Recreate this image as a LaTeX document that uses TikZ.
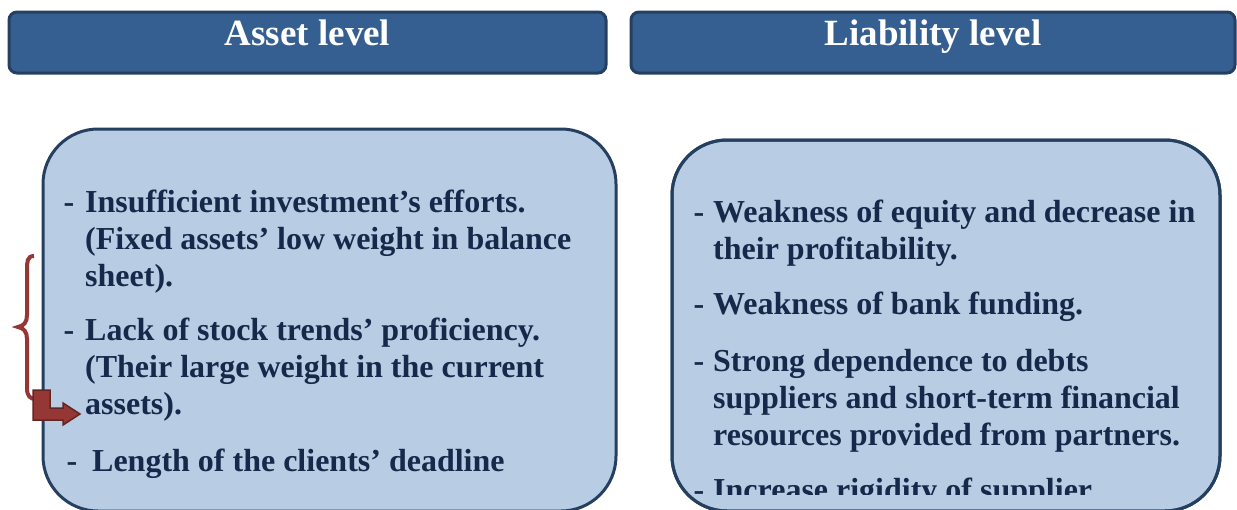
\documentclass[tikz,border=0pt]{standalone}
\usepackage{fontspec}
\setmainfont{Liberation Serif}
\usetikzlibrary{positioning}

\definecolor{headblue}{HTML}{365F91}
\definecolor{edgeblue}{HTML}{243F60}
\definecolor{boxblue}{HTML}{B8CCE4}
\definecolor{inkblue}{HTML}{17294A}
\definecolor{bracered}{HTML}{953735}
\definecolor{darkred}{HTML}{632523}

\begin{document}
\begin{tikzpicture}[x=1pt, y=-1pt,
  headbox/.style={draw=edgeblue, fill=headblue, line width=3pt, rounded corners=8pt,
    inner sep=0pt, outer sep=0pt, text=white, font=\bfseries\fontsize{37}{44}\selectfont,
    text height=33pt, text depth=28pt},
  bodybox/.style={draw=edgeblue, fill=boxblue, line width=3pt, rounded corners=55pt,
    inner sep=0pt, outer sep=0pt},
  item/.style={anchor=base west, inner sep=0pt, text=inkblue,
    font=\bfseries\fontsize{32}{37}\selectfont}]
\useasboundingbox (0,0) rectangle (1237,509);

% headings
\node[headbox, minimum width=597pt] (assethead) at (307.5,42.5) {Asset level};
\node[headbox, minimum width=604pt] (liabhead) at (933,42.5) {Liability level};

% the two boxes (they run past the bottom edge)
\node[bodybox, minimum width=573pt, minimum height=382pt] (assetbox) at (329.5,320) {};
\node[bodybox, minimum width=548pt, minimum height=371pt] (liabbox) at (946,325.5) {};

% asset side
\node[item] (a1) at (85,212) {\llap{-\hspace{11pt}}Insufficient investment’s efforts.};
\node[item] (a2) at (85,249) {(Fixed assets’ low weight in balance};
\node[item] (a3) at (85,286) {sheet).};
\node[item] (a4) at (85,340) {\llap{-\hspace{11pt}}Lack of stock trends’ proficiency.};
\node[item] (a5) at (85,377) {(Their large weight in the current};
\node[item] (a6) at (85,414) {assets).};
\node[item] (a7) at (92,471) {\llap{-\hspace{15pt}}Length of the clients’ deadline};

% liability side
\node[item] (l1) at (713,222) {\llap{-\hspace{9pt}}Weakness of equity and decrease in};
\node[item] (l2) at (713,259) {their profitability.};
\node[item] (l3) at (713,314) {\llap{-\hspace{9pt}}Weakness of bank funding.};
\node[item] (l4) at (713,371) {\llap{-\hspace{9pt}}Strong dependence to debts};
\node[item] (l5) at (713,408) {suppliers and short-term financial};
\node[item] (l6) at (713,445) {resources provided from partners.};
\begin{scope}
  \clip (liabbox.west |- 0,460) rectangle (liabbox.east |- 0,494);
  \node[item] (l7) at (713,500) {\llap{-\hspace{9pt}}Increase rigidity of supplier};
\end{scope}
\draw[edgeblue, line width=3pt, rounded corners=55pt] (liabbox.north west) rectangle (liabbox.south east);

% brace and bent arrow
\draw[bracered, line width=4pt] (34,256) .. controls (27,256) and (27,262) .. (27,270) -- (27,315)
  .. controls (27,322) and (24,326) .. (18,327) .. controls (24,328) and (27,332) .. (27,339)
  -- (27,388) .. controls (27,396) and (30,399) .. (36,399);
\draw[darkred, fill=bracered, line width=1.5pt] (33,390) -- (50,390) -- (50,408) -- (63,408) -- (63,403)
  -- (80,414) -- (63,425) -- (63,420) -- (33,420) -- cycle;
\end{tikzpicture}
\end{document}
